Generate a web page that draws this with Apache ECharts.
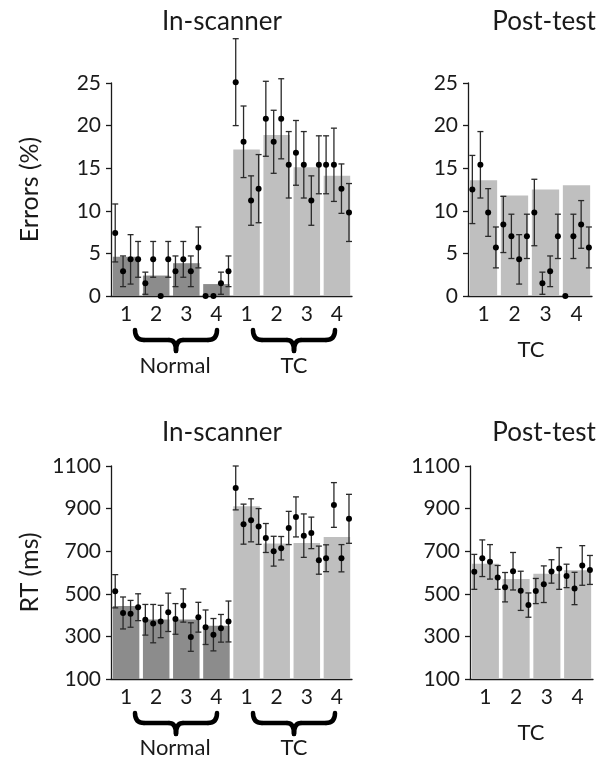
<!DOCTYPE html>
<html>
<head>
<meta charset="utf-8">
<script src="https://cdn.jsdelivr.net/npm/echarts@6/dist/echarts.min.js"></script>
<style>
  html, body { margin: 0; padding: 0; background: #fff; }
  #chart { width: 606px; height: 757px; }
</style>
</head>
<body>
<div id="chart"></div>
<script>
// categories (session numbers)
var scannerCats = ['1', '2', '3', '4', '1', '2', '3', '4']
var postCats = ['1', '2', '3', '4']
// first 4 in-scanner bars are Normal, last 4 are TC
var groupOf = ['N', 'N', 'N', 'N', 'T', 'T', 'T', 'T']

// Errors (%) - in-scanner
var errScannerMean = [4.6, 2.4, 3.85, 1.4, 17.2, 18.9, 15.1, 14.1]
var errScannerSubj = [
  [7.4, 2.9, 4.3, 4.3], [1.5, 4.3, 0, 4.3], [2.9, 4.3, 2.9, 5.7], [0, 0, 1.5, 2.9],
  [25.1, 18.1, 11.2, 12.6], [20.8, 18.1, 20.8, 15.4], [16.8, 15.4, 11.2, 15.4], [15.4, 15.4, 12.6, 9.8]
]
var errScannerSem = [
  [3.4, 1.8, 2.9, 2.1], [1.3, 2.1, 0, 2.1], [1.8, 2.1, 1.8, 2.4], [0, 0, 1.3, 1.8],
  [5.1, 4.2, 2.9, 4.0], [4.4, 3.7, 4.7, 3.9], [3.8, 3.9, 2.9, 3.4], [3.4, 4.3, 2.9, 3.4]
]

// Errors (%) - post-test
var errPostMean = [13.6, 11.8, 12.5, 13.0]
var errPostSubj = [[12.5, 15.4, 9.8, 5.7], [8.4, 7.0, 4.3, 7.0], [9.8, 1.5, 2.9, 7.0], [0, 7.0, 8.4, 5.7]]
var errPostSem = [[4.0, 3.9, 2.8, 2.4], [3.3, 2.6, 2.9, 2.6], [3.9, 1.3, 1.8, 2.6], [0, 2.6, 2.8, 2.4]]

// RT (ms) - in-scanner
var rtScannerMean = [443, 379, 379, 350, 911, 736, 739, 767]
var rtScannerSubj = [
  [512, 410, 406, 437], [378, 360, 370, 413], [382, 445, 297, 390], [343, 308, 338, 370],
  [997, 827, 845, 816], [762, 700, 714, 809], [861, 773, 786, 658], [667, 917, 667, 852]
]
var rtScannerSem = [
  [78, 75, 63, 63], [72, 90, 76, 90], [72, 78, 67, 70], [81, 76, 65, 96],
  [103, 94, 101, 84], [68, 70, 55, 78], [94, 102, 74, 66], [63, 105, 64, 115]
]

// RT (ms) - post-test
var rtPostMean = [641, 569, 594, 611]
var rtPostSubj = [[603, 667, 650, 577], [531, 606, 514, 447], [513, 545, 605, 619], [584, 525, 633, 612]]
var rtPostSem = [[82, 86, 81, 56], [69, 88, 92, 57], [59, 86, 55, 98], [55, 76, 93, 68]]

var FONT = 'Lato'
var DARK = '#8c8c8c'
var LIGHT = '#bfbfbf'
var INK = '#1a1a1a'
// where the 4 subjects sit inside a category band
var subjOffsets = [0.14, 0.4, 0.65, 0.9]

var chart = echarts.init(document.getElementById('chart'))

function dotPoints(subj) {
  var out = []
  subj.forEach(function (g, i) {
    g.forEach(function (v, j) { out.push([i + subjOffsets[j], v]) })
  })
  return out
}

function errPoints(subj, sem) {
  var out = []
  subj.forEach(function (g, i) {
    g.forEach(function (v, j) { out.push([i + subjOffsets[j], v, sem[i][j]]) })
  })
  return out
}

function renderErr(params, api) {
  var e = api.value(2)
  if (!e) return
  var x = api.value(0)
  var v = api.value(1)
  var top = api.coord([x, v + e])
  var bot = api.coord([x, v - e])
  var cap = 3
  var style = { stroke: '#2a2a2a', lineWidth: 1.3 }
  return {
    type: 'group',
    children: [
      { type: 'line', shape: { x1: top[0], y1: top[1], x2: bot[0], y2: bot[1] }, style: style },
      { type: 'line', shape: { x1: top[0] - cap, y1: top[1], x2: top[0] + cap, y2: top[1] }, style: style },
      { type: 'line', shape: { x1: bot[0] - cap, y1: bot[1], x2: bot[0] + cap, y2: bot[1] }, style: style }
    ]
  }
}

var grids = []
var xAxes = []
var yAxes = []
var series = []

function addPanel(box, cats, means, subj, sem, yMin, yMax, yStep, yName, groups) {
  var g = grids.length
  grids.push(box)
  var catIdx = xAxes.length
  xAxes.push({
    type: 'category', gridIndex: g, data: cats,
    axisLine: { lineStyle: { color: INK, width: 1.3 } },
    axisTick: { length: 5, lineStyle: { color: INK, width: 1.3 } },
    axisLabel: { color: INK, fontFamily: FONT, fontSize: 21, margin: 8 }
  })
  xAxes.push({ type: 'value', gridIndex: g, min: 0, max: cats.length, show: false })
  var yIdx = yAxes.length
  yAxes.push({
    type: 'value', gridIndex: g, min: yMin, max: yMax, interval: yStep,
    name: yName, nameLocation: 'middle', nameGap: 69, nameRotate: 90,
    nameTextStyle: { color: INK, fontFamily: FONT, fontSize: 25 },
    splitLine: { show: false },
    axisLine: { show: true, lineStyle: { color: INK, width: 1.3 } },
    axisTick: { show: true, length: 5, lineStyle: { color: INK, width: 1.3 } },
    axisLabel: {
      color: INK, fontFamily: FONT, fontSize: 21, margin: 10,
      formatter: function (v) { return String(v) }
    }
  })
  series.push({
    type: 'bar', xAxisIndex: catIdx, yAxisIndex: yIdx, barCategoryGap: '12%',
    data: means.map(function (v, i) {
      return { value: v, itemStyle: { color: groups[i] === 'N' ? DARK : LIGHT } }
    }),
    silent: true, z: 1
  })
  series.push({
    type: 'custom', xAxisIndex: catIdx + 1, yAxisIndex: yIdx, clip: false,
    renderItem: renderErr, data: errPoints(subj, sem), silent: true, z: 2
  })
  series.push({
    type: 'scatter', xAxisIndex: catIdx + 1, yAxisIndex: yIdx, clip: false,
    symbolSize: 6, itemStyle: { color: '#000', opacity: 1 },
    data: dotPoints(subj), silent: true, z: 3
  })
}

addPanel({ left: 111, top: 83, width: 241, height: 213 }, scannerCats, errScannerMean, errScannerSubj, errScannerSem, 0, 25, 5, 'Errors (%)', groupOf)
addPanel({ left: 468, top: 83, width: 124, height: 213 }, postCats, errPostMean, errPostSubj, errPostSem, 0, 25, 5, '', ['T', 'T', 'T', 'T'])
addPanel({ left: 111, top: 466, width: 241, height: 213 }, scannerCats, rtScannerMean, rtScannerSubj, rtScannerSem, 100, 1100, 200, 'RT (ms)', groupOf)
addPanel({ left: 470, top: 466, width: 123, height: 213 }, postCats, rtPostMean, rtPostSubj, rtPostSem, 100, 1100, 200, '', ['T', 'T', 'T', 'T'])

function label(text, x, y, size) {
  return {
    type: 'text', x: x, y: y, silent: true,
    style: { text: text, fill: INK, font: size + 'px ' + FONT, align: 'center', verticalAlign: 'middle' }
  }
}

// curly brace under a group of categories
function brace(x, y, w) {
  var h = w / 2
  var st = { fill: null, stroke: '#000', lineWidth: 4.5, lineCap: 'round' }
  function curve(x1, y1, cx, cy, x2, y2) {
    return { type: 'bezierCurve', shape: { x1: x1, y1: y1, cpx1: cx, cpy1: cy, x2: x2, y2: y2 }, style: st }
  }
  function seg(x1, y1, x2, y2) {
    return { type: 'line', shape: { x1: x1, y1: y1, x2: x2, y2: y2 }, style: st }
  }
  return {
    type: 'group', x: x, y: y, silent: true,
    children: [
      curve(0, 0, 0, 10, 9, 10), seg(9, 10, h - 7, 10), curve(h - 7, 10, h, 10, h, 21),
      curve(h, 21, h, 10, h + 7, 10), seg(h + 7, 10, w - 9, 10), curve(w - 9, 10, w, 10, w, 0)
    ]
  }
}

var graphics = [
  label('In-scanner', 222, 22, 26),
  label('Post-test', 544, 22, 26),
  label('In-scanner', 222, 433, 26),
  label('Post-test', 544, 433, 26),
  brace(135, 330, 82), brace(253, 330, 82),
  label('Normal', 175, 366, 22), label('TC', 294, 366, 22), label('TC', 531, 350, 22),
  brace(135, 713, 82), brace(253, 713, 82),
  label('Normal', 175, 748, 22), label('TC', 294, 748, 22), label('TC', 531, 733, 22)
]

chart.setOption({
  animation: false,
  grid: grids,
  xAxis: xAxes,
  yAxis: yAxes,
  graphic: graphics,
  series: series
})
</script>
</body>
</html>
